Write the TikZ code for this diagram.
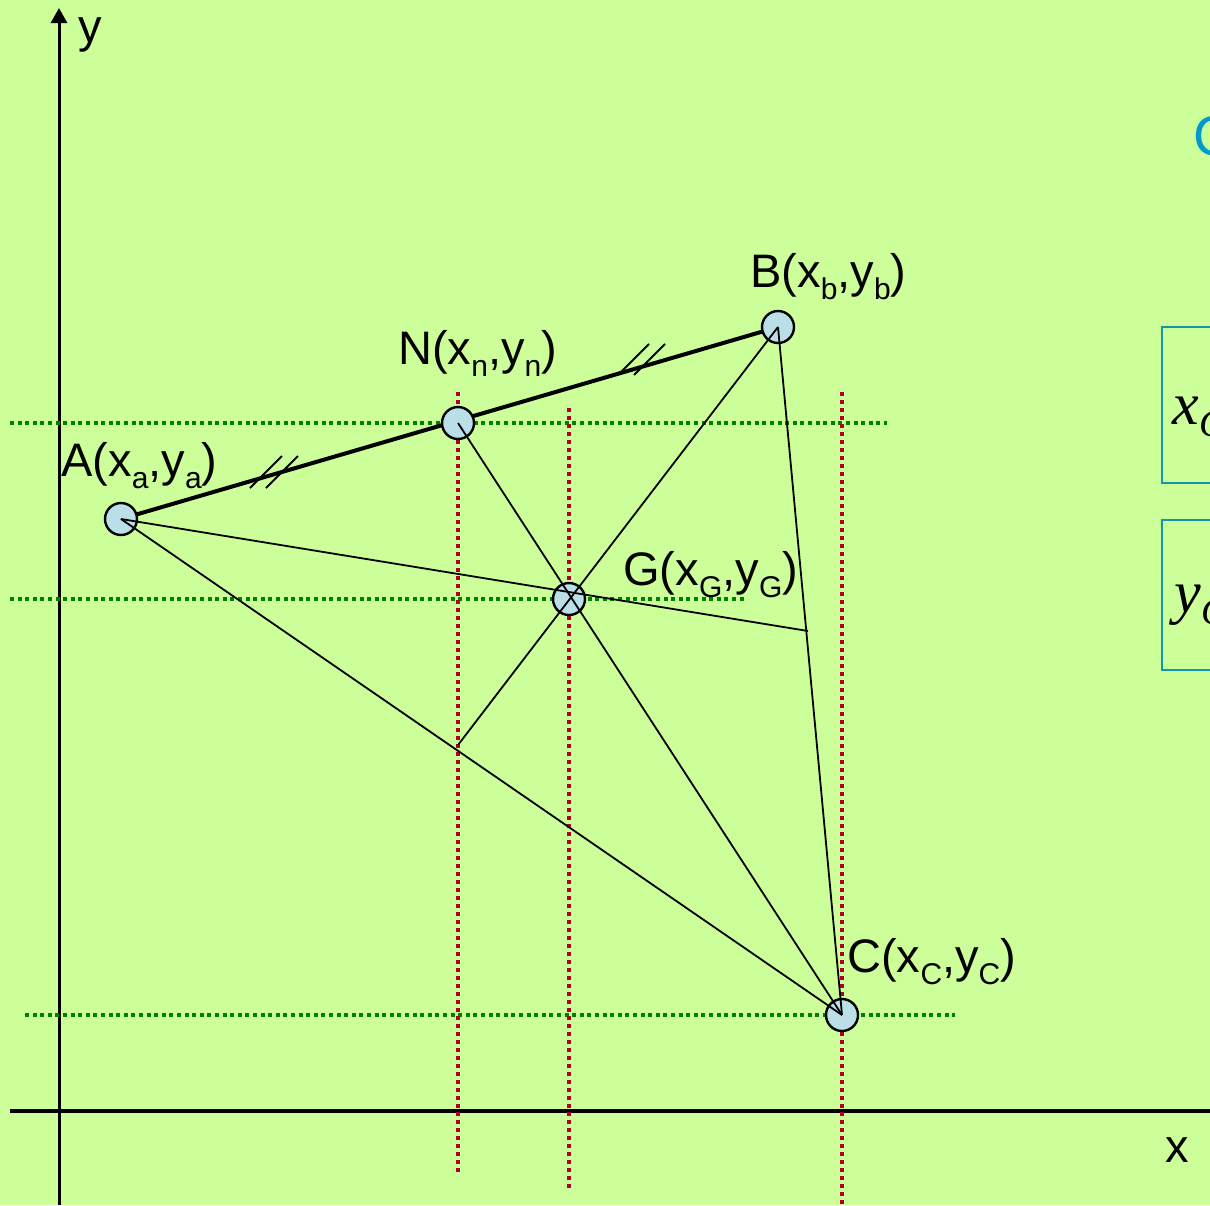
\documentclass[tikz,border=0pt]{standalone}
\usepackage{fontspec}
\setmainfont{Liberation Serif}
\setsansfont{Liberation Sans}
\usepackage{tikz}
\usetikzlibrary{arrows.meta, positioning}

\definecolor{bgGreen}{RGB}{204,255,153}
\definecolor{ptBlue}{RGB}{187,223,230}
\definecolor{guideGreen}{RGB}{0,128,0}
\definecolor{guideRed}{RGB}{175,0,40}
\definecolor{boxTeal}{RGB}{20,150,170}
\definecolor{titleBlue}{RGB}{0,153,204}

\newcommand{\sub}[1]{\raisebox{-6pt}{\fontsize{15}{15}\selectfont #1}}

\begin{document}
\begin{tikzpicture}[
    x=0.5pt, y=-0.5pt,
    pt/.style={circle, draw=black, line width=1.2pt, fill=ptBlue, minimum size=16pt, inner sep=0pt},
    lbl/.style={font=\sffamily\fontsize{23.5}{27}\selectfont, inner sep=0pt, anchor=base west},
    side/.style={line width=0.9pt},
    hguide/.style={guideGreen, line width=2pt, dash pattern=on 2pt off 1.8pt},
    vguide/.style={guideRed, line width=2pt, dash pattern=on 2pt off 2pt},
    tick/.style={line width=0.9pt},
    boxline/.style={draw=boxTeal, line width=1pt}
]
    % Background
    \fill[bgGreen] (0,0) rectangle (1210,1205);
    \useasboundingbox (0,0) rectangle (1210,1205);
    \clip (0,0) rectangle (1210,1205);

    % Axes
    \coordinate (ybot) at (59,1205);
    \coordinate (ytop) at (59,8);
    \coordinate (xl) at (10,1111);
    \coordinate (xr) at (1215,1111);
    \draw[line width=1.5pt, -{Triangle[length=7.5pt, width=8pt]}] (ybot) -- (ytop);
    \draw[line width=1.75pt] (xl) -- (xr);
    \node[lbl] (ylab) at (78,42) {y};
    \node[lbl] (xlab) at (1165,1162) {x};

    % Guides
    \draw[hguide] (10,423) -- (887,423);
    \draw[hguide] (10,599) -- (745,599);
    \draw[hguide] (25,1015) -- (955,1015);
    \draw[vguide] (458,392) -- (458,1172);
    \draw[vguide] (569,408) -- (569,1188);
    \draw[vguide] (842,392) -- (842,1210);

    % Points
    \coordinate (a0) at (121,519);
    \coordinate (b0) at (778,327);
    \draw[line width=2pt] (a0) -- (b0);
    \node[pt] (A) at (a0) {};
    \node[pt] (N) at (458,423) {};
    \node[pt] (B) at (b0) {};
    \node[pt] (G) at (569,599) {};
    \node[pt] (C) at (842,1015) {};

    % Sides and medians
    \coordinate (Mbc) at (808,631);
    \coordinate (Mac) at (458,745);
    \draw[side] (A.center) -- (C.center);
    \draw[side] (B.center) -- (C.center);
    \draw[side] (A.center) -- (Mbc);
    \draw[side] (B.center) -- (Mac);
    \draw[side] (N.center) -- (C.center);

    % Equal marks
    \draw[tick] (250,488) -- ++(32,-32);
    \draw[tick] (266,488) -- ++(32,-32);
    \draw[tick] (618,375) -- ++(31,-31);
    \draw[tick] (634,375) -- ++(31,-31);

    % Labels
    \node[lbl] (Alab) at (61,476) {A(x\sub{a},y\sub{a})};
    \node[lbl] (Nlab) at (398,364) {N(x\sub{n},y\sub{n})};
    \node[lbl] (Blab) at (750,287) {B(x\sub{b},y\sub{b})};
    \node[lbl] (Glab) at (623,585) {G(x\sub{G},y\sub{G})};
    \node[lbl] (Clab) at (847,972) {C(x\sub{C},y\sub{C})};

    % Right side
    \node[lbl, font=\sffamily\fontsize{28}{32}\selectfont, text=titleBlue] (title) at (1193,155) {C};
    \draw[boxline] (1162,327) rectangle (1260,483);
    \draw[boxline] (1162,520) rectangle (1260,670);
    \node[lbl, font=\rmfamily\itshape\fontsize{30}{34}\selectfont] (xG) at (1172,424) {x\raisebox{-6pt}{\fontsize{19}{19}\selectfont G}};
    \node[lbl, font=\rmfamily\itshape\fontsize{30}{34}\selectfont] (yG) at (1174,612) {y\raisebox{-6pt}{\fontsize{19}{19}\selectfont G}};
\end{tikzpicture}
\end{document}
